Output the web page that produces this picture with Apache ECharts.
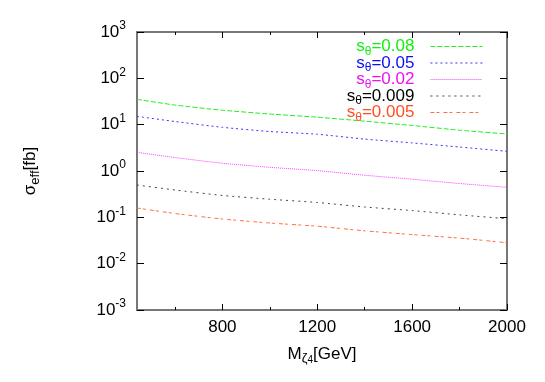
<!DOCTYPE html>
<html lang="en">
<head>
<meta charset="UTF-8">
<title>sigma_eff vs M</title>
<script src="https://cdn.jsdelivr.net/npm/echarts@6/dist/echarts.min.js"></script>
<style>
  html, body { margin: 0; padding: 0; background: #fff; }
  #chart { width: 545px; height: 382px; }
</style>
</head>
<body>
<div id="chart"></div>
<script>
// masses (GeV) and cross sections (fb)
var masses = [440, 600, 800, 1000, 1200, 1400, 1600, 1800, 2000];
var sigma008 = [35.2, 26.5, 20.5, 17.0, 14.5, 11.9, 9.6, 7.6, 6.3];
var sigma005 = [15.1, 11.7, 8.77, 7.11, 6.22, 4.88, 4.04, 3.29, 2.66];
var sigma002 = [2.53, 1.95, 1.47, 1.20, 1.02, 0.81, 0.665, 0.537, 0.445];
var sigma0009 = [0.499, 0.389, 0.297, 0.246, 0.209, 0.167, 0.140, 0.113, 0.0934];
var sigma0005 = [0.159, 0.121, 0.092, 0.0754, 0.0643, 0.0512, 0.0424, 0.0356, 0.0283];

var sThetaLabels = ['0.08', '0.05', '0.02', '0.009', '0.005'];
var xMajorTicks = [800, 1200, 1600, 2000];
var xMinorTicks = [600, 1000, 1400, 1800];

var allSigma = [sigma008, sigma005, sigma002, sigma0009, sigma0005];
var lineColors = ['#22ee22', '#3535ff', '#ff3cff', '#444444', '#ff7040'];
var textColors = ['#11ee11', '#1010ee', '#ee10ee', '#000000', '#ff5020'];
var dashes = [[5, 2], [2, 3], [1, 1], [2, 4], [4, 2, 3, 4]];

var FONT = "'Liberation Sans', Arial, sans-serif";
var chart = echarts.init(document.getElementById('chart'));

var series = [];
var legendRich = {};
for (var i = 0; i < sThetaLabels.length; i++) {
    var pts = [];
    for (var j = 0; j < masses.length; j++) {
        pts.push([masses[j], allSigma[i][j]]);
    }
    series.push({
        name: 's\u03b8=' + sThetaLabels[i],
        type: 'line',
        symbol: 'none',
        smooth: 0.2,
        data: pts,
        lineStyle: { color: lineColors[i], width: 1, type: dashes[i] },
        itemStyle: { color: lineColors[i] }
    });
    legendRich['t' + i] = { fontSize: 17, fontFamily: FONT, color: textColors[i], lineHeight: 22 };
    legendRich['u' + i] = { fontSize: 12, fontFamily: FONT, color: textColors[i], verticalAlign: 'bottom' };
    legendRich['e' + i] = { fontSize: 17, fontFamily: FONT, color: textColors[i], lineHeight: 22, padding: [0, 11, 0, 0] };
}

var tickStyle = { color: '#000', width: 1 };
var frameLine = { show: true, lineStyle: { color: '#777', width: 2 } };

var option = {
    animation: false,
    grid: { left: 137, right: 38, top: 32, bottom: 72, containLabel: false },
    legend: {
        orient: 'vertical',
        right: 57,
        top: 33,
        align: 'right',
        itemWidth: 52,
        itemHeight: 10,
        itemGap: -3,
        itemStyle: { opacity: 0 },
        lineStyle: { width: 1.2 },
        textStyle: { width: 84, align: 'right', rich: legendRich },
        formatter: function (name) {
            var k = sThetaLabels.indexOf(name.slice(3));
            return '{t' + k + '|s}{u' + k + '|\u03b8}{e' + k + '|=' + sThetaLabels[k] + '}';
        },
        data: series.map(function (s) { return s.name; })
    },
    xAxis: [
        {
            type: 'value', min: 440, max: 2000, position: 'bottom',
            axisLine: frameLine,
            axisTick: { inside: true, length: 6, lineStyle: tickStyle, customValues: xMajorTicks },
            axisLabel: {
                customValues: xMajorTicks, fontSize: 17, fontFamily: FONT, color: '#000', margin: 9,
                formatter: function (v) { return String(v); }
            },
            splitLine: { show: false },
            name: '{m|M}{s|\u03b6}{q|4}{m|[GeV]}',
            nameLocation: 'middle',
            nameGap: 33,
            nameTextStyle: {
                rich: {
                    m: { fontSize: 17, fontFamily: FONT, color: '#000', lineHeight: 22 },
                    s: { fontSize: 13, fontFamily: FONT, color: '#000', verticalAlign: 'bottom', lineHeight: 14 },
                    q: { fontSize: 10, fontFamily: FONT, color: '#000', verticalAlign: 'bottom', lineHeight: 10 }
                }
            }
        },
        {
            type: 'value', min: 440, max: 2000, position: 'bottom',
            axisLine: { show: false },
            axisTick: { inside: true, length: 3, lineStyle: tickStyle, customValues: xMinorTicks },
            axisLabel: { show: false },
            splitLine: { show: false }
        },
        {
            type: 'value', min: 440, max: 2000, position: 'top',
            axisLine: frameLine,
            axisTick: { inside: true, length: 6, lineStyle: tickStyle, customValues: xMajorTicks },
            axisLabel: { show: false },
            splitLine: { show: false }
        },
        {
            type: 'value', min: 440, max: 2000, position: 'top',
            axisLine: { show: false },
            axisTick: { inside: true, length: 3, lineStyle: tickStyle, customValues: xMinorTicks },
            axisLabel: { show: false },
            splitLine: { show: false }
        }
    ],
    yAxis: [
        {
            type: 'log', logBase: 10, min: 0.001, max: 1000, interval: 1, position: 'left',
            axisLine: frameLine,
            axisTick: { inside: true, length: 7, lineStyle: tickStyle },
            splitLine: { show: false },
            axisLabel: {
                margin: 11,
                formatter: function (v) {
                    var e = Math.round(Math.log10(v));
                    return '{b|10}{e|' + e + '}';
                },
                rich: {
                    b: { fontSize: 17, fontFamily: FONT, color: '#000', lineHeight: 24 },
                    e: { fontSize: 12, fontFamily: FONT, color: '#000', verticalAlign: 'top' }
                }
            },
            name: '{m|\u03c3}{s|eff}{m|[fb]}',
            nameLocation: 'middle',
            nameRotate: 90,
            nameGap: 95,
            nameTextStyle: {
                rich: {
                    m: { fontSize: 17, fontFamily: FONT, color: '#000', lineHeight: 24 },
                    s: { fontSize: 13, fontFamily: FONT, color: '#000', verticalAlign: 'bottom', lineHeight: 13 }
                }
            }
        },
        {
            type: 'log', logBase: 10, min: 0.001, max: 1000, interval: 1, position: 'right',
            axisLine: frameLine,
            axisTick: { inside: true, length: 7, lineStyle: tickStyle },
            axisLabel: { show: false },
            splitLine: { show: false }
        }
    ],
    series: series
};

chart.setOption(option);
</script>
</body>
</html>
